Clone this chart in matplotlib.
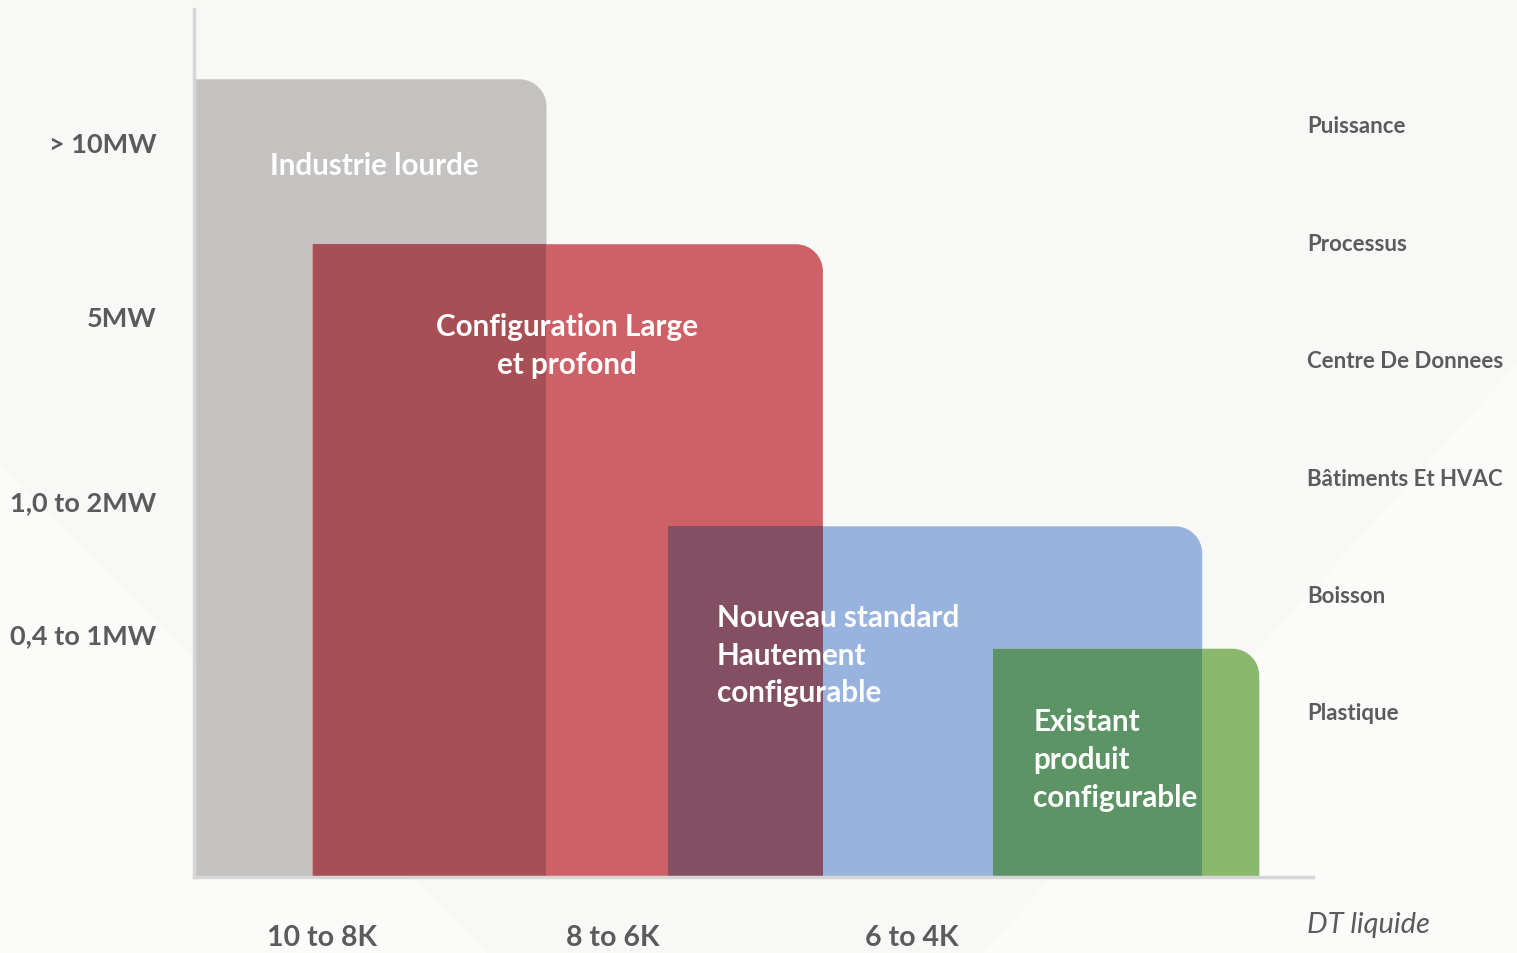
import matplotlib
matplotlib.use("Agg")
import matplotlib.pyplot as plt
from matplotlib.path import Path
from matplotlib.patches import PathPatch, Rectangle, Polygon

# --- data (chart units: x 0..100 along DT axis, y 0..100 along power axis) ---
zone_names = ["Industrie lourde", "Configuration Large\net profond",
              "Nouveau standard\nHautement\nconfigurable",
              "Existant\nproduit\nconfigurable"]
zone_x0 = [0.0, 10.6, 42.4, 71.4]
zone_x1 = [31.5, 56.2, 90.1, 95.2]
zone_top = [91.9, 72.9, 40.4, 26.3]
zone_colors = ["#c3c2c0", "#cd6167", "#98b3dd", "#8ab86d"]
overlap_colors = ["#a74f55", "#844f63", "#5d9466"]   # gray∩red, red∩blue, blue∩green

y_ticks = [84.7, 64.6, 43.4, 28.1]
y_labels = ["> 10MW", "5MW", "1,0 to 2MW", "0,4 to 1MW"]
x_ticks = [11.4, 37.4, 64.1]
x_labels = ["10 to 8K", "8 to 6K", "6 to 4K"]
sectors = ["Puissance", "Processus", "Centre De Donnees",
           "Bâtiments Et HVAC", "Boisson", "Plastique"]

TXT = "#5b5b5b"
FONT = ["Lato", "DejaVu Sans"]

W, H = 1517, 954
fig = plt.figure(figsize=(W / 100, H / 100), dpi=100)
fig.patch.set_facecolor("#f8f8f7")

# faint chevron in the background
bg = fig.add_axes([0, 0, 1, 1], zorder=0)
bg.set_xlim(0, W); bg.set_ylim(H, 0); bg.axis("off")
bg.add_patch(Polygon([(0, 467), (0, H), (487, H)], closed=True, color="#fbfbfa", lw=0))
bg.add_patch(Polygon([(W, 365), (W, H), (983, H)], closed=True, color="#fbfbfa", lw=0))

ax_l, ax_r, ax_t, ax_b = 194, 1313, 10, 878
ax = fig.add_axes([ax_l / W, (H - ax_b) / H, (ax_r - ax_l) / W, (ax_b - ax_t) / H], zorder=1)
ax.set_xlim(0, 100); ax.set_ylim(0, 100)
ax.patch.set_alpha(0)
px_x = (ax_r - ax_l) / 100.0
px_y = (ax_b - ax_t) / 100.0


def rounded_box(x0, x1, top, r_px=27):
    rx, ry = r_px / px_x, r_px / px_y
    k = 0.5523
    verts = [(x0, 0), (x0, top), (x1 - rx, top),
             (x1 - rx + k * rx, top), (x1, top - ry + k * ry), (x1, top - ry),
             (x1, 0), (x0, 0)]
    codes = [Path.MOVETO, Path.LINETO, Path.LINETO,
             Path.CURVE4, Path.CURVE4, Path.CURVE4,
             Path.LINETO, Path.CLOSEPOLY]
    return Path(verts, codes)


for x0, x1, top, c in zip(zone_x0, zone_x1, zone_top, zone_colors):
    ax.add_patch(PathPatch(rounded_box(x0, x1, top), facecolor=c, edgecolor="none", zorder=2))

for i, c in enumerate(overlap_colors):
    lo = max(zone_x0[i], zone_x0[i + 1])
    hi = min(zone_x1[i], zone_x1[i + 1])
    h = min(zone_top[i], zone_top[i + 1])
    ax.add_patch(Rectangle((lo, 0), hi - lo, h, facecolor=c, edgecolor="none", zorder=3))

# zone labels
zkw = dict(color="white", fontsize=21.3, family=FONT, fontweight="bold",
           va="center", linespacing=1.42, zorder=5)
ax.text(16.1, 82.0, zone_names[0], ha="center", **zkw)
ax.text(33.3, 61.3, zone_names[1], ha="center", **zkw)
ax.text(46.7, 25.6, zone_names[2], ha="left", **zkw)
ax.text(75.0, 13.6, zone_names[3], ha="left", **zkw)

# axes
for s in ["top", "right"]:
    ax.spines[s].set_visible(False)
for s in ["left", "bottom"]:
    ax.spines[s].set_color("#d6d6d6")
    ax.spines[s].set_linewidth(2.5)
    ax.spines[s].set_zorder(6)
ax.tick_params(length=0)
ax.set_yticks(y_ticks)
ax.set_yticklabels(y_labels, fontsize=19.5, color=TXT, family=FONT, fontweight="bold")
ax.tick_params(axis="y", pad=27)
ax.set_xticks(x_ticks)
ax.set_xticklabels(x_labels, fontsize=20.5, color=TXT, family=FONT, fontweight="bold")
ax.tick_params(axis="x", pad=34)

# sector labels on the right
for i, s in enumerate(sectors):
    y = 127 + i * 117.4
    fig.text(1307 / W, 1 - y / H, s, fontsize=16, color=TXT, family=FONT,
             fontweight="bold", ha="left", va="center")
fig.text(1307 / W, 1 - 925 / H, "DT liquide", fontsize=21, color=TXT, family=FONT,
         style="italic", ha="left", va="center")

fig.savefig("out.png", dpi=100, facecolor=fig.get_facecolor())
